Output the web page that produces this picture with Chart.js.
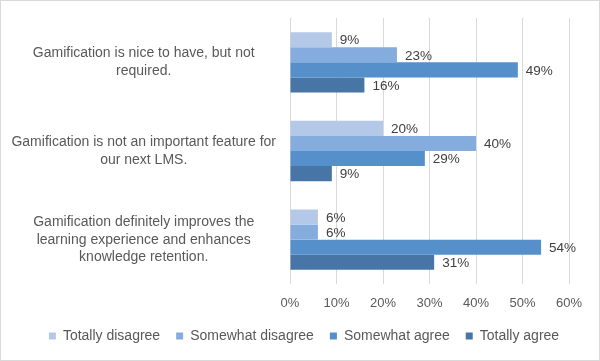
<!DOCTYPE html>
<html>
<head>
<meta charset="utf-8">
<script src="https://cdn.jsdelivr.net/npm/chart.js@4/dist/chart.umd.min.js"></script>
<style>
	html, body { margin: 0; padding: 0; background: #fff; }
	#wrap { width: 600px; height: 361px; box-sizing: border-box; border: 1px solid #d9d9d9; position: relative; }
</style>
</head>
<body>
<div id="wrap"><canvas id="chart"></canvas></div>
<script>
const categories = [
	["Gamification is nice to have, but not", "required."],
	["Gamification is not an important feature for", "our next LMS."],
	["Gamification definitely improves the", "learning experience and enhances", "knowledge retention."]
];
const seriesNames = ["Totally disagree", "Somewhat disagree", "Somewhat agree", "Totally agree"];
const totallyDisagree = [9, 20, 6];
const somewhatDisagree = [23, 40, 6];
const somewhatAgree = [49, 29, 54];
const totallyAgree = [16, 9, 31];
const xTicks = [0, 10, 20, 30, 40, 50, 60];

const colors = ["#b4c8e8", "#84acdc", "#5590cb", "#4775a6"];
const font = "'Liberation Sans', Arial, sans-serif";

// draws the value text just past the end of each bar
const valueLabels = {
	id: "valueLabels",
	afterDatasetsDraw(chart) {
		const c = chart.ctx;
		c.save();
		c.font = "13.5px " + font;
		c.fillStyle = "#404040";
		c.textBaseline = "middle";
		c.textAlign = "left";
		chart.data.datasets.forEach((ds, i) => {
			chart.getDatasetMeta(i).data.forEach((bar, j) => {
				c.fillText(ds.data[j] + "%", bar.x + 8, bar.y + 1);
			});
		});
		c.restore();
	}
};

// legend is centred on the whole picture, not on the padded area
const legendShift = {
	id: "legendShift",
	afterLayout(chart) {
		if (chart.legend) {
			chart.legend.left += 14;
			chart.legend.right += 14;
		}
	}
};

const ctx = document.getElementById("chart");
new Chart(ctx, {
	type: "bar",
	data: {
		labels: categories,
		datasets: [totallyDisagree, somewhatDisagree, somewhatAgree, totallyAgree].map((d, i) => ({
			label: seriesNames[i],
			data: d,
			backgroundColor: colors[i],
			barPercentage: 1,
			categoryPercentage: 0.68,
		})),
	},
	options: {
		indexAxis: "y",
		responsive: true,
		maintainAspectRatio: false,
		animation: false,
		layout: { padding: { top: 17, right: 30, left: 10, bottom: 7 } },
		scales: {
			x: {
				min: 0,
				max: 60,
				afterBuildTicks: (axis) => { axis.ticks = xTicks.map(v => ({ value: v })); },
				afterFit: (axis) => { axis.height = 29; },
				ticks: {
					callback: (v) => v + "%",
					color: "#595959",
					font: { family: font, size: 13 },
					padding: 12,
				},
				grid: { color: "#d9d9d9", drawTicks: false },
				border: { display: false },
			},
			y: {
				// the tall wrapped labels should not push the plot area down
				afterFit: (axis) => { axis.paddingTop = 0; axis.paddingBottom = 0; },
				ticks: {
					crossAlign: "center",
					color: "#595959",
					font: { family: font, size: 14, lineHeight: 1.25 },
					padding: 14,
				},
				grid: { display: false, drawTicks: false },
				border: { display: false },
			},
		},
		plugins: {
			legend: {
				position: "bottom",
				labels: {
					boxWidth: 7,
					boxHeight: 7,
					color: "#595959",
					font: { family: font, size: 14 },
					padding: 16,
				},
			},
			tooltip: { enabled: false },
		},
	},
	plugins: [valueLabels, legendShift],
});
</script>
</body>
</html>
